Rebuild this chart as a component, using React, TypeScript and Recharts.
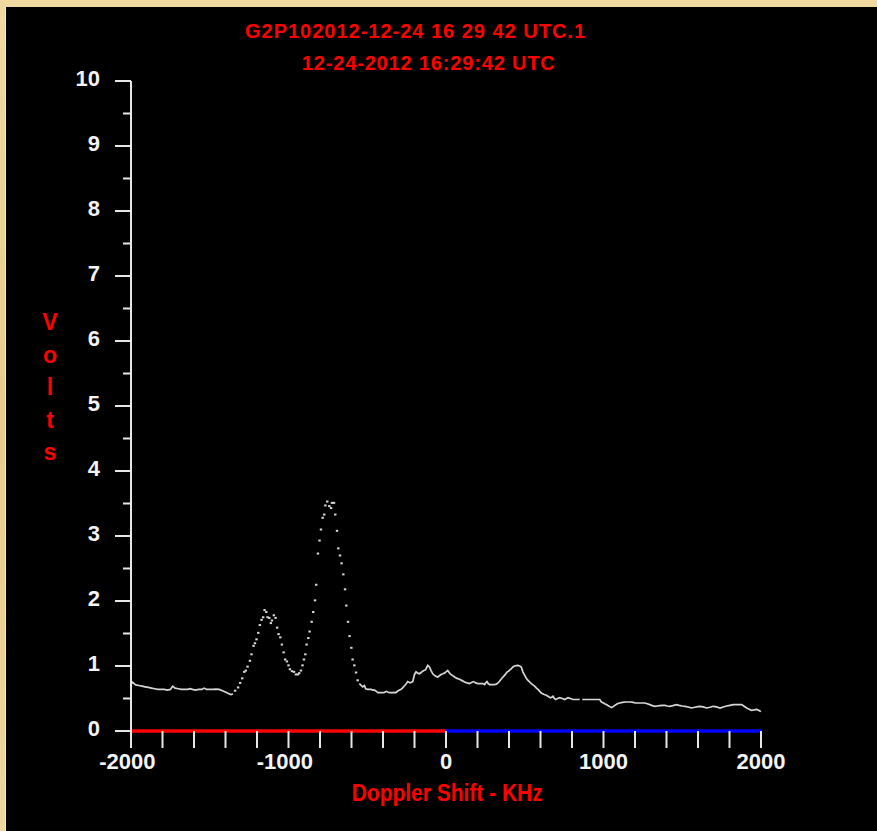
import React from 'react';
import { ComposedChart, Line, Scatter, XAxis, YAxis } from 'recharts';

type Pt = [number, number];

// Doppler shift (KHz), Volts
const baselineLeft: Pt[] = [
  [-2000, 0.72], [-1990, 0.75], [-1980, 0.73], [-1970, 0.71], [-1950, 0.70], [-1930, 0.69],
  [-1910, 0.68], [-1890, 0.67], [-1870, 0.66], [-1850, 0.65], [-1830, 0.64], [-1810, 0.64],
  [-1790, 0.64], [-1770, 0.63], [-1750, 0.64], [-1735, 0.69], [-1720, 0.66], [-1700, 0.65],
  [-1680, 0.64], [-1660, 0.64], [-1640, 0.64], [-1625, 0.65], [-1610, 0.64], [-1590, 0.63],
  [-1570, 0.64], [-1550, 0.64], [-1535, 0.66], [-1520, 0.64], [-1500, 0.64], [-1480, 0.64],
  [-1460, 0.645], [-1440, 0.64], [-1420, 0.62], [-1400, 0.60], [-1385, 0.58], [-1366, 0.56],
  [-1352, 0.57],
];

const peakRegion: Pt[] = [
  [-1339, 0.62], [-1320, 0.67], [-1307, 0.74], [-1294, 0.81], [-1281, 0.91], [-1271, 0.93],
  [-1260, 0.99], [-1245, 1.08], [-1235, 1.18], [-1222, 1.31], [-1213, 1.35], [-1203, 1.41],
  [-1192, 1.51], [-1182, 1.63], [-1171, 1.71], [-1161, 1.75], [-1152, 1.86], [-1141, 1.83],
  [-1133, 1.75], [-1122, 1.74], [-1112, 1.66], [-1105, 1.70], [-1093, 1.78], [-1082, 1.74],
  [-1072, 1.59], [-1063, 1.49], [-1052, 1.44], [-1042, 1.33], [-1031, 1.21], [-1021, 1.10],
  [-1010, 1.07], [-1000, 1.01], [-991, 0.95], [-978, 0.92], [-965, 0.91], [-953, 0.87],
  [-940, 0.87], [-932, 0.89], [-921, 0.93], [-911, 1.01], [-902, 1.10], [-893, 1.18],
  [-885, 1.33], [-874, 1.43], [-866, 1.53], [-853, 1.68], [-843, 1.83], [-832, 2.01],
  [-824, 2.25], [-813, 2.73], [-803, 2.93], [-794, 3.10], [-783, 3.28], [-773, 3.33],
  [-766, 3.47], [-754, 3.53], [-741, 3.46], [-730, 3.43], [-724, 3.51], [-711, 3.51],
  [-703, 3.33], [-692, 3.08], [-684, 2.81], [-673, 2.70], [-663, 2.58], [-652, 2.41],
  [-641, 2.18], [-633, 1.93], [-622, 1.68], [-612, 1.46], [-601, 1.28], [-593, 1.10],
  [-582, 1.01], [-571, 0.90], [-561, 0.78],
];

const centerRegion: Pt[] = [
  [-550, 0.73], [-539, 0.70], [-529, 0.68], [-518, 0.70], [-510, 0.65], [-497, 0.64],
  [-486, 0.64], [-476, 0.64], [-465, 0.63], [-453, 0.63], [-442, 0.61], [-432, 0.59],
  [-420, 0.59], [-410, 0.59], [-400, 0.59], [-390, 0.595], [-379, 0.61], [-370, 0.60],
  [-360, 0.59], [-348, 0.59], [-336, 0.59], [-326, 0.595], [-317, 0.59], [-306, 0.615],
  [-295, 0.63], [-285, 0.64], [-277, 0.66], [-270, 0.68], [-262, 0.70], [-255, 0.72],
  [-243, 0.76], [-235, 0.75], [-228, 0.74], [-220, 0.75], [-211, 0.76], [-205, 0.82],
  [-200, 0.87], [-190, 0.91], [-180, 0.89], [-169, 0.88], [-158, 0.90], [-148, 0.92],
  [-138, 0.935], [-130, 0.94], [-122, 0.98], [-116, 1.01], [-105, 0.985], [-95, 0.93],
  [-84, 0.88], [-75, 0.86], [-63, 0.84], [-52, 0.83], [-42, 0.85], [-31, 0.87],
  [-20, 0.88], [-10, 0.89], [0, 0.91], [11, 0.93], [20, 0.90], [27, 0.88],
  [40, 0.855], [54, 0.83], [70, 0.81], [86, 0.795], [102, 0.775], [118, 0.755],
  [134, 0.74], [149, 0.73], [162, 0.745], [175, 0.76], [188, 0.74], [202, 0.73],
  [218, 0.73], [234, 0.73], [245, 0.715], [252, 0.74], [260, 0.76], [268, 0.73],
  [277, 0.715], [292, 0.715], [308, 0.715], [320, 0.72], [330, 0.74], [340, 0.765],
  [347, 0.79], [356, 0.815], [366, 0.84], [378, 0.875], [389, 0.91], [397, 0.92],
  [404, 0.935], [415, 0.96], [425, 0.985], [435, 1.0], [446, 1.005], [457, 1.01],
  [468, 1.0], [478, 0.985], [488, 0.91], [499, 0.86], [510, 0.81], [518, 0.785],
  [527, 0.765], [535, 0.745], [542, 0.73], [552, 0.71], [563, 0.69], [574, 0.66],
  [584, 0.64], [595, 0.61], [605, 0.585], [620, 0.565], [637, 0.55], [650, 0.53],
  [663, 0.51], [671, 0.52], [679, 0.535], [688, 0.50], [696, 0.485], [709, 0.50],
  [722, 0.513], [738, 0.50], [754, 0.485], [765, 0.50], [775, 0.513], [790, 0.50],
  [806, 0.485], [820, 0.485], [835, 0.485], [849, 0.485],
];

const tailRight: Pt[] = [
  [865, 0.485], [880, 0.485], [895, 0.485], [910, 0.485], [923, 0.485], [940, 0.485],
  [960, 0.485], [976, 0.485], [987, 0.446], [1000, 0.43], [1010, 0.415], [1019, 0.406],
  [1030, 0.39], [1040, 0.375], [1051, 0.36], [1062, 0.375], [1072, 0.395], [1088, 0.42],
  [1103, 0.431], [1120, 0.44], [1138, 0.446], [1156, 0.446], [1172, 0.446], [1188, 0.44],
  [1204, 0.431], [1220, 0.431], [1240, 0.431], [1262, 0.431], [1278, 0.42], [1294, 0.406],
  [1310, 0.39], [1326, 0.38], [1342, 0.385], [1358, 0.39], [1374, 0.395], [1390, 0.395],
  [1405, 0.385], [1421, 0.38], [1440, 0.39], [1464, 0.406], [1480, 0.395], [1500, 0.385],
  [1517, 0.38], [1538, 0.37], [1559, 0.354], [1580, 0.365], [1600, 0.375], [1612, 0.38],
  [1633, 0.37], [1655, 0.354], [1676, 0.365], [1697, 0.38], [1718, 0.37], [1740, 0.354],
  [1760, 0.37], [1782, 0.385], [1803, 0.395], [1824, 0.406], [1845, 0.406], [1862, 0.406],
  [1877, 0.406], [1893, 0.38], [1909, 0.354], [1925, 0.335], [1940, 0.318], [1956, 0.325],
  [1972, 0.333], [1985, 0.32], [1993, 0.308], [2000, 0.30],
];

const zeroNegative: Pt[] = [[-2000, 0], [0, 0]];
const zeroPositive: Pt[] = [[0, 0], [2000, 0]];

const xTicks = [
  -2000, -1800, -1600, -1400, -1200, -1000, -800, -600, -400, -200, 0,
  200, 400, 600, 800, 1000, 1200, 1400, 1600, 1800, 2000,
];
const xLabeled = [-2000, -1000, 0, 1000, 2000];
const yTicks = [
  0, 0.5, 1, 1.5, 2, 2.5, 3, 3.5, 4, 4.5, 5, 5.5, 6, 6.5, 7, 7.5, 8, 8.5, 9, 9.5, 10,
];
const titleLines = ['G2P102012-12-24 16 29 42 UTC.1', '12-24-2012 16:29:42 UTC'];
const yTitleLetters = ['V', 'o', 'l', 't', 's'];
const xTitle = 'Doppler Shift - KHz';

const toRows = (pts: Pt[]) => pts.map(([x, v]) => ({ x, v }));

const FONT = '"Liberation Sans", Arial, sans-serif';
const AXIS = '#e6e6e6';
const TRACE = '#d6d6d6';

const XTick = (props: any) => {
  const { x, y, payload } = props;
  const v = payload.value as number;
  const show = xLabeled.includes(v);
  return (
    <g>
      <line x1={x} x2={x} y1={y} y2={y + 17} stroke={AXIS} strokeWidth={2} />
      {show && (
        <text
          x={v < 0 ? x + 24.5 : x}
          y={y + 38}
          textAnchor={v < 0 ? 'end' : 'middle'}
          fill="#f4f4f4"
          fontFamily={FONT}
          fontWeight="bold"
          fontSize={22}
        >
          {String(v)}
        </text>
      )}
    </g>
  );
};

const YTick = (props: any) => {
  const { x, y, payload } = props;
  const v = payload.value as number;
  const major = Number.isInteger(v);
  return (
    <g>
      <line x1={x - (major ? 16 : 8)} x2={x} y1={y} y2={y} stroke={AXIS} strokeWidth={2} />
      {major && (
        <text
          x={x - 31}
          y={y + 4.5}
          textAnchor="end"
          fill="#f4f4f4"
          fontFamily={FONT}
          fontWeight="bold"
          fontSize={22}
        >
          {String(v)}
        </text>
      )}
    </g>
  );
};

const DotShape = (p: any) => (
  <rect x={p.cx - 1.2} y={p.cy - 1} width={2.4} height={2} fill={TRACE} />
);

export default function App() {
  return (
    <div
      style={{
        position: 'absolute',
        left: 0,
        top: 0,
        width: 877,
        height: 831,
        overflow: 'hidden',
        background: 'linear-gradient(180deg, #efd9a0 0%, #e6cb8b 50%, #eed59c 100%)',
      }}
    >
      <div
        style={{
          position: 'absolute',
          left: 5,
          top: 7,
          width: 872,
          height: 824,
          background: '#000',
          borderLeft: '1px solid #ecebe2',
          boxSizing: 'border-box',
        }}
      >
        <div style={{ position: 'absolute', left: 0, top: 0 }}>
          <ComposedChart
            width={871}
            height={824}
            margin={{ top: 74, right: 116, left: 0, bottom: 0 }}
          >
            <XAxis
              type="number"
              dataKey="x"
              domain={[-2000, 2000]}
              ticks={xTicks}
              interval={0}
              height={100}
              tickSize={0}
              tickMargin={0}
              axisLine={false}
              tickLine={false}
              tick={<XTick />}
            />
            <YAxis
              type="number"
              dataKey="v"
              domain={[0, 10]}
              ticks={yTicks}
              interval={0}
              width={125}
              tickSize={0}
              tickMargin={0}
              axisLine={{ stroke: AXIS, strokeWidth: 2 }}
              tickLine={false}
              tick={<YTick />}
            />
            <Line
              data={toRows(zeroNegative)}
              dataKey="v"
              stroke="#ff0000"
              strokeWidth={3.5}
              dot={false}
              activeDot={false}
              isAnimationActive={false}
            />
            <Line
              data={toRows(zeroPositive)}
              dataKey="v"
              stroke="#0000ff"
              strokeWidth={3.5}
              dot={false}
              activeDot={false}
              isAnimationActive={false}
            />
            <Line
              data={toRows(baselineLeft)}
              dataKey="v"
              stroke={TRACE}
              strokeWidth={1.7}
              dot={false}
              activeDot={false}
              isAnimationActive={false}
            />
            <Line
              data={toRows(centerRegion)}
              dataKey="v"
              stroke={TRACE}
              strokeWidth={1.7}
              dot={false}
              activeDot={false}
              isAnimationActive={false}
            />
            <Line
              data={toRows(tailRight)}
              dataKey="v"
              stroke={TRACE}
              strokeWidth={1.7}
              dot={false}
              activeDot={false}
              isAnimationActive={false}
            />
            <Scatter
              data={toRows(peakRegion)}
              dataKey="v"
              shape={DotShape}
              isAnimationActive={false}
            />
          </ComposedChart>
        </div>
        <svg
          width={871}
          height={824}
          style={{ position: 'absolute', left: 0, top: 0, pointerEvents: 'none' }}
        >
          <text
            x={409}
            y={30.5}
            textAnchor="middle"
            fill="#ff0000"
            fontFamily={FONT}
            fontWeight="bold"
            fontSize={20}
            textLength={340}
            lengthAdjust="spacing"
          >
            {titleLines[0]}
          </text>
          <text
            x={422.3}
            y={63}
            textAnchor="middle"
            fill="#ff0000"
            fontFamily={FONT}
            fontWeight="bold"
            fontSize={20}
            textLength={253}
            lengthAdjust="spacing"
          >
            {titleLines[1]}
          </text>
          {yTitleLetters.map((ch, i) => (
            <text
              key={i}
              x={44}
              y={323 + i * 32.5}
              textAnchor="middle"
              fill="#ff0000"
              fontFamily={FONT}
              fontWeight="bold"
              fontSize={23}
            >
              {ch}
            </text>
          ))}
          <text
            x={441.2}
            y={794}
            textAnchor="middle"
            fill="#ff0000"
            fontFamily={FONT}
            fontWeight="bold"
            fontSize={23}
            textLength={191}
            lengthAdjust="spacingAndGlyphs"
          >
            {xTitle}
          </text>
        </svg>
      </div>
    </div>
  );
}
